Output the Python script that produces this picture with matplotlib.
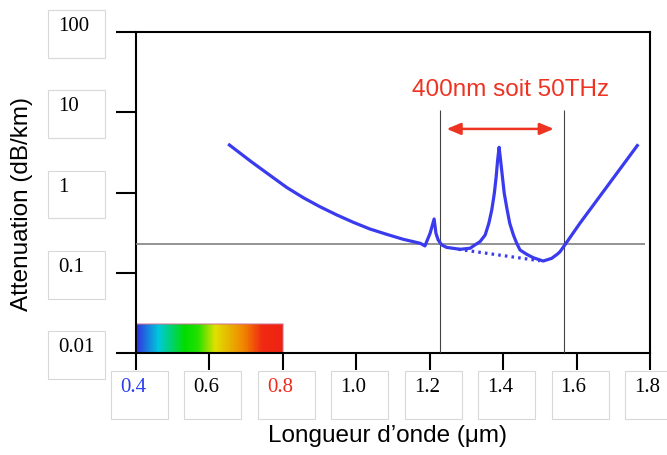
import numpy as np
import matplotlib
matplotlib.use('Agg')
import matplotlib.pyplot as plt
from matplotlib.colors import LinearSegmentedColormap
from matplotlib.patches import Rectangle
from matplotlib.ticker import NullLocator, FixedLocator

# ---- data ----
wavelength = [0.651, 0.715, 0.779, 0.810, 0.856, 0.901, 0.947, 0.992, 1.037, 1.083,
              1.128, 1.174, 1.187, 1.201, 1.212, 1.217, 1.223, 1.233, 1.246, 1.283,
              1.310, 1.323, 1.337, 1.351, 1.361, 1.369, 1.376, 1.381, 1.385, 1.389,
              1.393, 1.398, 1.403, 1.411, 1.418, 1.428, 1.437, 1.446, 1.464, 1.482,
              1.509, 1.532, 1.548, 1.555, 1.568, 1.609, 1.768]
attenuation = [4.02, 2.40, 1.47, 1.16, 0.86, 0.665, 0.525, 0.425, 0.351, 0.301,
               0.261, 0.233, 0.216, 0.310, 0.468, 0.310, 0.256, 0.222, 0.207, 0.196,
               0.202, 0.222, 0.244, 0.295, 0.413, 0.605, 0.977, 1.57, 2.54, 3.66,
               2.54, 1.57, 0.977, 0.605, 0.413, 0.295, 0.233, 0.192, 0.170, 0.154,
               0.140, 0.151, 0.171, 0.183, 0.222, 0.413, 3.99]
dotted_wl = [1.278, 1.500]
dotted_att = [0.196, 0.141]
level = 0.228
level_end = 1.787
windows = [1.227, 1.565]
window_top = 10.7
arrow_wl = [1.246, 1.538]
arrow_att = 6.2
band_label = "400nm soit 50THz"
band_label_pos = (1.42, 16.1)
visible_wl = [0.4, 0.8]
visible_att = [0.01, 0.023]

x_ticks = [0.4, 0.6, 0.8, 1.0, 1.2, 1.4, 1.6, 1.8]
x_labels = ['0.4', '0.6', '0.8', '1.0', '1.2', '1.4', '1.6', '1.8']
x_label_colors = ['#2a3cf0', 'black', '#f02a1e', 'black', 'black', 'black', 'black', 'black']
y_ticks = [100, 10, 1, 0.1, 0.01]
y_labels = ['100', '10', '1', '0.1', '0.01']

W, H = 667, 455
blue = '#3a3aee'
red = '#ee3322'
sans = ['Liberation Sans', 'DejaVu Sans']
serif = ['Liberation Serif', 'DejaVu Serif']

fig = plt.figure(figsize=(W / 100, H / 100), dpi=100)
ax = fig.add_axes([136 / W, 102 / H, 514 / W, 321 / H])
ax.set_yscale('log')
ax.set_xlim(0.4, 1.8)
ax.set_ylim(0.01, 100)

for s in ax.spines.values():
    s.set_linewidth(1.5)
    s.set_color('black')
ax.xaxis.set_major_locator(FixedLocator(x_ticks))
ax.yaxis.set_major_locator(FixedLocator(y_ticks))
ax.xaxis.set_minor_locator(NullLocator())
ax.yaxis.set_minor_locator(NullLocator())
ax.tick_params(axis='x', direction='out', length=12.2, width=1.5, labelbottom=False)
ax.tick_params(axis='y', direction='out', length=14.4, width=1.5, labelleft=False)

# visible spectrum band
cmap = LinearSegmentedColormap.from_list('spec', [
    (0.0, '#3232e0'), (0.15, '#00c8dc'), (0.33, '#00dc00'), (0.42, '#22e000'),
    (0.54, '#e0e000'), (0.74, '#f08200'), (0.86, '#f02a12'), (1.0, '#ee2211')])
xe = np.linspace(visible_wl[0], visible_wl[1], 201)
ye = np.array(visible_att)
ax.pcolormesh(xe, ye, np.linspace(0, 1, 200).reshape(1, -1), cmap=cmap,
              shading='flat', zorder=2)
ax.add_patch(Rectangle((visible_wl[0], visible_att[0]), visible_wl[1] - visible_wl[0],
                       visible_att[1] - visible_att[0], fill=False,
                       ec='#d07090', lw=1.2, alpha=0.6, zorder=2.1))

# reference lines
ax.hlines(level, 0.4, level_end, color='#808080', lw=1.2, zorder=3)
ax.vlines(windows, 0.01, window_top, color='#444444', lw=0.8, zorder=3)

# attenuation curve
ax.plot(wavelength, attenuation, color=blue, lw=2.3, solid_joinstyle='round',
        solid_capstyle='butt', zorder=4)
ax.plot(dotted_wl, dotted_att, color=blue, lw=2.3, linestyle=(0, (0.8, 1.3)), zorder=4)

# arrow and annotation
ax.annotate('', xy=(arrow_wl[1], arrow_att), xytext=(arrow_wl[0], arrow_att),
            arrowprops=dict(arrowstyle='<|-|>,head_length=0.6,head_width=0.25',
                            color=red, lw=1.8, mutation_scale=14,
                            shrinkA=0, shrinkB=0), zorder=5)
ax.text(band_label_pos[0], band_label_pos[1], band_label, color=red, fontsize=17.5,
        family=sans, ha='center', va='baseline', zorder=5)

fig.canvas.draw()
inv = fig.transFigure.inverted()


def fig_xy(px, py):
    return inv.transform((px, py))


box_ec = '#d8d8d8'
# y tick labels in boxes
spine_x = ax.transData.transform((0.4, 1))[0]
for v, lab in zip(y_ticks, y_labels):
    ty = ax.transData.transform((0.4, v))[1]
    x0, y0 = fig_xy(spine_x - 88, ty - 26)
    x1, y1 = fig_xy(spine_x - 31, ty + 22)
    fig.add_artist(Rectangle((x0, y0), x1 - x0, y1 - y0, transform=fig.transFigure,
                             fill=False, ec=box_ec, lw=0.8))
    tx, tyy = fig_xy(spine_x - 78, ty + 1)
    fig.text(tx, tyy, lab, family=serif, fontsize=15, ha='left', va='baseline',
             color='black')

# x tick labels in boxes
bottom_y = ax.transData.transform((0.4, 0.01))[1]
for v, lab, c in zip(x_ticks, x_labels, x_label_colors):
    tx = ax.transData.transform((v, 0.01))[0]
    x0, y0 = fig_xy(tx - 25, bottom_y - 66)
    x1, y1 = fig_xy(tx + 32, bottom_y - 18)
    fig.add_artist(Rectangle((x0, y0), x1 - x0, y1 - y0, transform=fig.transFigure,
                             fill=False, ec=box_ec, lw=0.8))
    lx, ly = fig_xy(tx - 3, bottom_y - 39)
    fig.text(lx, ly, lab, family=serif, fontsize=15, ha='center', va='baseline', color=c)

# axis titles
fig.text(387 / W, 13 / H, 'Longueur d\u2019onde (\u03bcm)', family=sans, fontsize=17.5,
         ha='center', va='baseline', color='black')
fig.text(22 / W, 251 / H, 'Attenuation (dB/km)', family=sans, fontsize=17.5,
         ha='center', va='center', rotation=90, color='black')

fig.savefig('out.png', dpi=100)
